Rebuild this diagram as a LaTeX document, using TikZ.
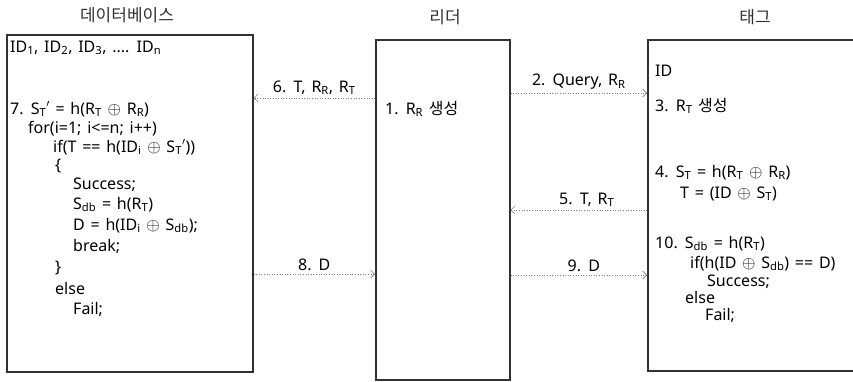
\documentclass[tikz,border=0pt]{standalone}
\usepackage{fontspec}
\setmainfont{Noto Sans}
\newfontfamily\kor{Noto Sans CJK KR}
\usetikzlibrary{arrows.meta}
\newcommand{\sub}[1]{\textsubscript{#1}}
\newcommand{\xor}{$\oplus$}
\newcommand{\widespaces}{\spaceskip=0.36em\relax}

\begin{document}
\begin{tikzpicture}[x=1pt, y=-1pt,
every node/.style = {font={\fontsize{16}{19}\selectfont\widespaces}, inner sep=0pt},
box/.style = {draw=black!80, line width=1.6pt, anchor=north west},
code/.style = {anchor=west, text height=11pt, text depth=3pt},
title/.style = {font={\fontsize{17}{20}\selectfont\kor}, text=black!80},
msg/.style = {draw=black!50, line width=0.6pt, dotted,
  -{Straight Barb[length=4pt, width=8pt, line width=0.6pt]}},
lbl/.style = {midway, above=3pt}
]
\useasboundingbox (0,0) rectangle (853,381);
\clip (0,0) rectangle (853,381);

% boxes
\node[box, minimum width=246pt, minimum height=337pt] (db) at (6,34) {};
\node[box, minimum width=134pt, minimum height=340pt] (reader) at (375,39) {};
\node[box, minimum width=240pt, minimum height=331pt] (tag) at (647,39) {};

\node[title] (dbtitle) at (127,15) {데이터베이스};
\node[title] (readertitle) at (445,17) {리더};
\node[title] (tagtitle) at (755,17) {태그};

% database
\node[code] (db1) at (10,48) {ID\sub{1}, ID\sub{2}, ID\sub{3}, .... ID\sub{n}};
\node[code] (db2) at (10,110) {7. S\sub{T}$'$ = h(R\sub{T} \xor{} R\sub{R})};
\node[code] (db3) at (28,129) {for(i=1; i<=n; i++)};
\node[code] (db4) at (53,148) {if(T == h(ID\sub{i} \xor{} S\sub{T}$'$))};
\node[code] (db5) at (55,166) {\{};
\node[code] (db6) at (73,185) {Success;};
\node[code] (db7) at (73,205) {S\sub{db} = h(R\sub{T})};
\node[code] (db8) at (73,226) {D = h(ID\sub{i} \xor{} S\sub{db});};
\node[code] (db9) at (73,247) {break;};
\node[code] (db10) at (55,268) {\}};
\node[code] (db11) at (55,290) {else};
\node[code] (db12) at (73,310) {Fail;};

% reader
\node[code] (rd1) at (385,110) {1. R\sub{R} {\kor 생성}};

% tag
\node[code] (tg1) at (655,72) {ID};
\node[code] (tg2) at (655,107) {3. R\sub{T} {\kor 생성}};
\node[code] (tg3) at (655,173) {4. S\sub{T} = h(R\sub{T} \xor{} R\sub{R})};
\node[code] (tg4) at (680,194) {T = (ID \xor{} S\sub{T})};
\node[code] (tg5) at (655,244) {10. S\sub{db} = h(R\sub{T})};
\node[code] (tg6) at (690,264) {if(h(ID \xor{} S\sub{db}) == D)};
\node[code] (tg7) at (707,282) {Success;};
\node[code] (tg8) at (685,299) {else};
\node[code] (tg9) at (705,316) {Fail;};

% messages
\coordinate (row2) at (0,93);
\coordinate (row6) at (0,98);
\coordinate (row5) at (0,210);
\coordinate (row8) at (0,274);
\coordinate (row9) at (0,275);
\draw[msg] (reader.east |- row2) -- (tag.west |- row2) node[lbl] {2. Query, R\sub{R}};
\draw[msg] (reader.west |- row6) -- (db.east |- row6) node[lbl] {6. T, R\sub{R}, R\sub{T}};
\draw[msg] (tag.west |- row5) -- (reader.east |- row5) node[lbl, xshift=8pt] {5. T, R\sub{T}};
\draw[msg] (db.east |- row8) -- (reader.west |- row8) node[lbl] {8. D};
\draw[msg] (reader.east |- row9) -- (tag.west |- row9) node[lbl, xshift=5pt] {9. D};

\end{tikzpicture}
\end{document}
